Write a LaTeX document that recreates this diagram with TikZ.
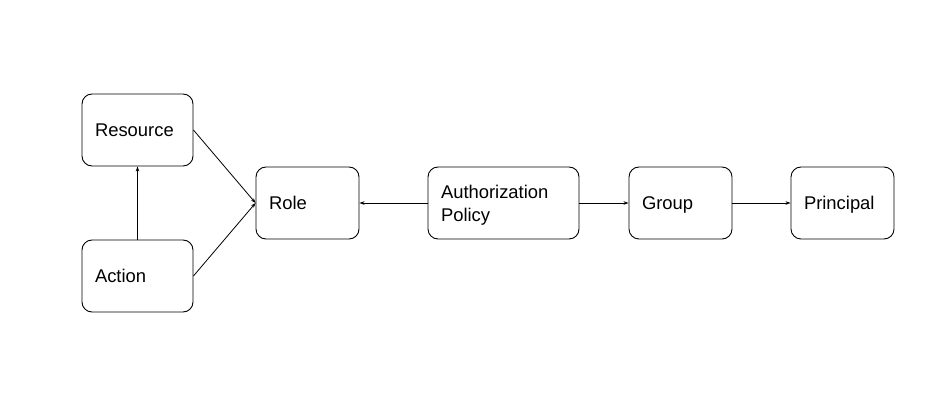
\documentclass[tikz,border=0pt]{standalone}
\usepackage{fontspec}
\setmainfont{Liberation Sans}
\usetikzlibrary{arrows.meta}
\begin{document}
\begin{tikzpicture}[x=1pt,y=1pt,
  box/.style={draw, line width=0.9pt, rounded corners=10pt, minimum height=72pt,
    inner xsep=13pt, inner ysep=0pt, align=left, text height=15.2pt, text depth=2pt,
    font=\fontsize{18.4}{23}\selectfont},
  conn/.style={line width=0.8pt, -{Stealth[length=5pt,width=3.5pt]}}]
\useasboundingbox (0,0) rectangle (928,399);
\node[box, text width=85pt] (res) at (137.5,269) {Resource};
\node[box, text width=85pt] (act) at (137.5,123) {Action};
\node[box, text width=77pt] (role) at (307.5,196) {Role};
\node[box, text width=125pt, text depth=25pt] (auth) at (503.5,196) {Authorization\\Policy};
\node[box, text width=77pt] (grp) at (680.5,196) {Group};
\node[box, text width=77pt] (prin) at (842.5,196) {Principal};
\draw[conn] (act.north) -- (res.south);
\draw[conn] (res.east) -- (role.west);
\draw[conn] (act.east) -- (role.west);
\draw[conn] (auth.west) -- (role.east);
\draw[conn] (auth.east) -- (grp.west);
\draw[conn] (grp.east) -- (prin.west);
\end{tikzpicture}
\end{document}
